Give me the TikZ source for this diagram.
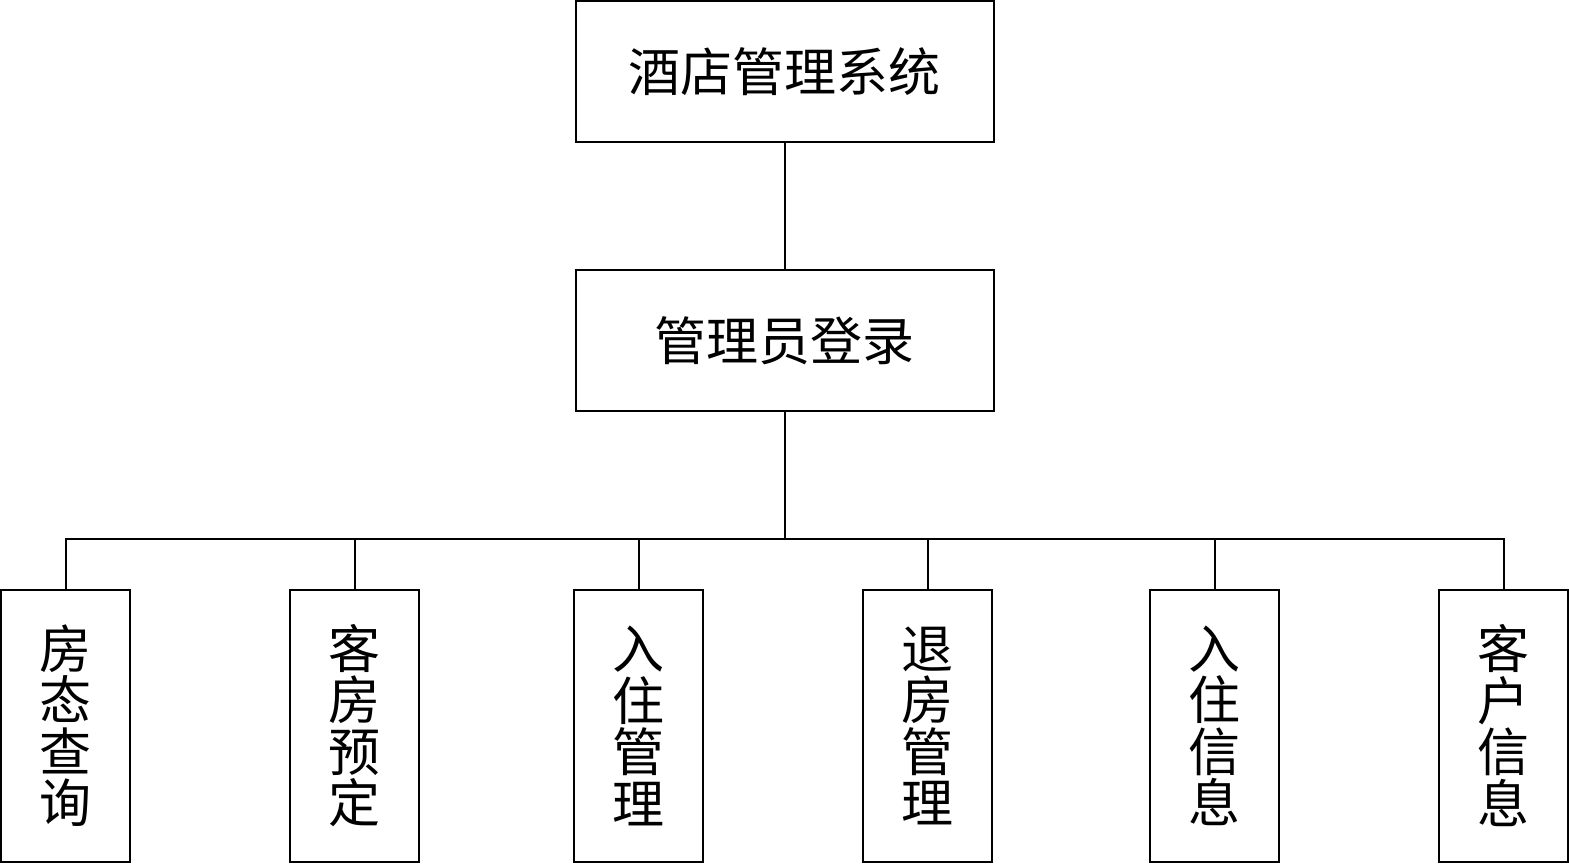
\documentclass[tikz,border=0pt]{standalone}
\usepackage{fontspec}
\newfontfamily\cjk{Noto Sans CJK SC}
\begin{document}
\begin{tikzpicture}[x=1pt,y=-1pt,
  box/.style={draw,line width=2pt,inner sep=0pt,font=\cjk\fontsize{52}{51.5}\selectfont},
  bigbox/.style={box,minimum width=418pt,minimum height=140.5pt},
  leaf/.style={box,minimum width=129pt,minimum height=271.5pt,align=center},
  conn/.style={line width=2pt}]
\useasboundingbox (0,0) rectangle (1569,863);
\node[bigbox] (top) at (784.5,71.25) {酒店管理系统};
\node[bigbox] (mid) at (784.5,340.5) {管理员登录};
\node[leaf] (b1) at (65.5,725.75) {房\\态\\查\\询};
\node[leaf] (b2) at (354.5,725.75) {客\\房\\预\\定};
\node[leaf] (b3) at (638.8,725.75) {入\\住\\管\\理};
\node[leaf] (b4) at (927.8,725.75) {退\\房\\管\\理};
\node[leaf] (b5) at (1214.5,725.75) {入\\住\\信\\息};
\node[leaf] (b6) at (1503.5,725.75) {客\\户\\信\\息};
\coordinate (j) at (784.5,539.3);
\draw[conn] (top.south) -- (mid.north);
\draw[conn] (mid.south) -- (j);
\draw[conn] (b1.north) |- (j) -| (b6.north);
\foreach \b in {b2,b3,b4,b5}
  \draw[conn] (\b.north) -- (\b.north |- j);
\end{tikzpicture}
\end{document}
